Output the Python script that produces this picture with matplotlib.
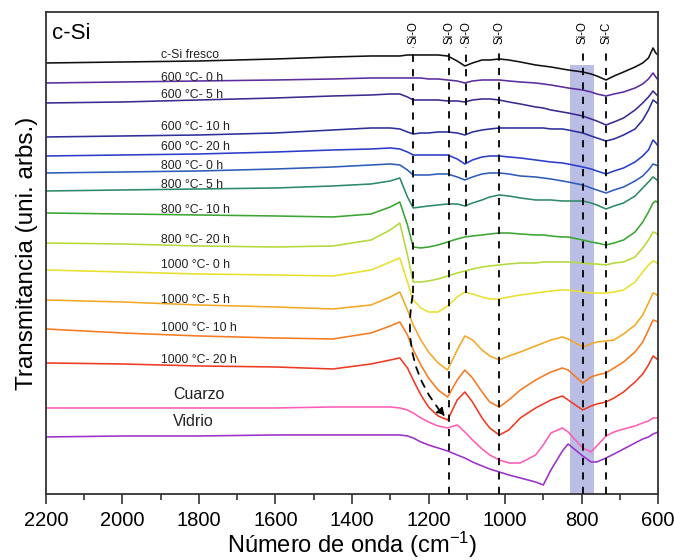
import numpy as np
import matplotlib
matplotlib.use("Agg")
import matplotlib.pyplot as plt

plt.rcParams['font.family'] = ['Liberation Sans', 'DejaVu Sans']
plt.rcParams['mathtext.default'] = 'regular'

# numero de onda (cm-1), rejilla comun para todas las curvas
wn = [2200, 2000, 1800, 1600, 1450, 1350, 1300, 1275, 1255, 1240, 1220, 1200, 1175,
      1150, 1125, 1105, 1085, 1060, 1040, 1015, 990, 960, 920, 900, 880, 850, 835,
      797, 775, 760, 736, 715, 690, 660, 640, 625, 613, 606, 600]

# transmitancia (uni. arbs.), ya desplazada verticalmente
t_fresco = [43.7, 43.8, 43.9, 44.1, 44.3, 44.4, 44.4, 44.4, 44.5, 44.5, 44.5, 44.5, 44.5,
            44.4, 43.9, 43.4, 43.7, 44.0, 44.0, 44.1, 44.0, 43.8, 43.5, 43.4, 43.3, 43.1, 43.0,
            42.8, 42.6, 42.4, 42.0, 42.4, 42.8, 43.3, 43.7, 44.2, 45.2, 44.7, 44.5]
t_600_0 = [41.7, 41.8, 41.9, 42.0, 42.1, 42.2, 42.2, 42.2, 42.2, 42.2, 42.2, 42.1, 42.1,
           42.0, 41.9, 41.7, 41.9, 42.0, 42.0, 42.0, 41.9, 41.8, 41.7, 41.6, 41.5, 41.3, 41.2,
           41.0, 40.8, 40.6, 40.4, 40.6, 40.8, 41.2, 41.6, 42.1, 42.7, 42.3, 42.0]
t_600_5 = [39.7, 39.8, 40.0, 40.2, 40.4, 40.5, 40.6, 40.6, 40.3, 40.0, 40.0, 40.0, 40.0,
           39.9, 39.9, 39.8, 40.0, 40.1, 40.1, 40.0, 39.8, 39.6, 39.3, 39.2, 39.0, 38.8, 38.7,
           38.4, 38.1, 37.9, 37.5, 37.8, 38.2, 39.0, 39.7, 40.3, 40.9, 40.6, 40.4]
t_600_10 = [36.3, 36.4, 36.5, 36.7, 37.0, 37.2, 37.2, 37.1, 36.8, 36.6, 36.7, 36.7, 36.8,
            36.8, 36.7, 36.5, 36.8, 37.0, 37.1, 37.2, 37.2, 37.2, 37.2, 37.2, 37.1, 37.1, 37.0,
            36.7, 36.4, 36.2, 35.9, 36.1, 36.5, 37.1, 38.0, 39.0, 40.0, 39.8, 39.6]
t_600_20 = [34.4, 34.5, 34.6, 34.8, 35.0, 35.1, 35.2, 35.1, 34.8, 34.5, 34.5, 34.5, 34.5,
            34.5, 34.1, 33.6, 34.0, 34.3, 34.4, 34.4, 34.3, 34.2, 34.0, 33.9, 33.8, 33.7, 33.6,
            33.3, 33.1, 32.9, 32.6, 32.9, 33.2, 33.8, 34.4, 35.0, 36.0, 35.7, 35.4]
t_800_0 = [32.7, 32.8, 32.9, 33.1, 33.3, 33.5, 33.6, 33.5, 33.0, 32.5, 32.5, 32.5, 32.6,
           32.6, 32.3, 32.0, 32.3, 32.6, 32.7, 32.7, 32.6, 32.4, 32.3, 32.2, 32.1, 31.9, 31.8,
           31.5, 31.2, 31.0, 30.7, 31.0, 31.3, 31.9, 32.4, 33.0, 33.6, 33.5, 33.4]
t_800_5 = [30.9, 31.0, 31.1, 31.2, 31.4, 31.6, 31.9, 32.2, 30.3, 29.2, 29.3, 29.4, 29.5,
           29.6, 29.6, 29.4, 29.7, 30.0, 30.3, 30.5, 30.4, 30.2, 30.0, 30.0, 30.0, 29.9, 29.9,
           29.9, 29.7, 29.5, 29.1, 29.4, 29.7, 30.4, 31.2, 31.8, 32.3, 32.1, 31.9]
t_800_10 = [28.7, 28.6, 28.5, 28.4, 28.3, 28.6, 29.3, 29.8, 27.5, 25.3, 25.2, 25.3, 25.5,
            25.8, 26.1, 26.3, 26.4, 26.5, 26.6, 26.7, 26.7, 26.6, 26.5, 26.5, 26.4, 26.3, 26.3,
            26.0, 25.8, 25.7, 25.5, 25.7, 26.0, 26.8, 27.8, 28.8, 29.7, 29.9, 29.7]
t_800_20 = [25.7, 25.6, 25.4, 25.3, 25.4, 26.0, 27.0, 27.7, 24.5, 21.8, 21.8, 21.9, 22.1,
            22.4, 22.7, 22.9, 23.1, 23.3, 23.4, 23.5, 23.6, 23.7, 23.7, 23.8, 23.8, 23.8, 23.8,
            23.7, 23.6, 23.6, 23.5, 23.7, 23.8, 24.3, 25.2, 26.0, 26.8, 26.7, 26.5]
t_1000_0 = [23.0, 22.8, 22.6, 22.5, 22.4, 23.0, 23.8, 24.2, 21.8, 20.0, 19.2, 18.8, 18.8,
            19.4, 20.3, 20.8, 20.6, 20.3, 20.1, 20.1, 20.3, 20.5, 20.7, 20.8, 20.9, 21.0, 21.0,
            20.8, 20.7, 20.7, 20.7, 20.8, 21.0, 21.8, 22.8, 23.5, 23.9, 23.8, 23.6]
t_1000_5 = [20.0, 19.8, 19.5, 19.3, 19.1, 19.5, 20.3, 20.8, 19.0, 17.5, 16.0, 14.8, 13.7,
            13.0, 15.0, 16.4, 16.0, 15.0, 14.4, 14.0, 14.4, 14.8, 15.4, 15.7, 16.0, 16.3, 16.1,
            15.3, 15.6, 15.8, 15.9, 16.0, 16.6, 17.5, 18.5, 19.7, 20.7, 20.6, 20.4]
t_1000_10 = [17.1, 16.7, 16.4, 16.2, 16.1, 16.7, 17.4, 17.8, 16.5, 15.0, 13.5, 12.2, 11.0,
             10.3, 12.0, 13.0, 12.2, 10.8, 9.8, 9.3, 10.0, 11.0, 12.0, 12.4, 12.8, 13.2, 13.0,
             11.7, 12.3, 12.5, 12.7, 13.2, 13.8, 14.8, 15.8, 17.0, 18.0, 17.9, 17.8]
t_1000_20 = [13.7, 13.6, 13.4, 13.3, 13.1, 13.6, 14.0, 14.2, 13.2, 12.0, 10.5, 9.3, 8.4,
             8.0, 10.0, 10.8, 9.8, 8.2, 7.2, 6.5, 7.0, 8.2, 9.2, 9.6, 10.0, 10.4, 10.0,
             9.0, 9.4, 9.6, 9.8, 10.2, 10.8, 11.8, 12.6, 13.5, 14.4, 14.2, 14.0]
t_cuarzo = [9.2, 9.2, 9.2, 9.2, 9.3, 9.3, 9.3, 9.2, 9.0, 8.7, 8.2, 7.8, 7.4,
            7.2, 7.5, 6.8, 6.0, 5.1, 4.5, 4.0, 3.7, 3.7, 4.5, 5.5, 6.7, 7.2, 6.8,
            5.2, 4.8, 5.4, 6.4, 6.8, 7.1, 7.4, 7.7, 7.9, 8.2, 8.2, 8.2]
t_vidrio = [6.3, 6.4, 6.4, 6.5, 6.5, 6.5, 6.5, 6.5, 6.4, 6.2, 5.8, 5.5, 5.2,
            4.9, 4.5, 4.2, 3.8, 3.4, 3.1, 2.8, 2.5, 2.2, 1.8, 1.5, 3.0, 4.9, 5.6,
            4.4, 3.8, 3.8, 4.2, 4.6, 5.1, 5.7, 6.1, 6.3, 6.6, 6.7, 6.8]

series = [t_fresco, t_600_0, t_600_5, t_600_10, t_600_20, t_800_0, t_800_5, t_800_10,
          t_800_20, t_1000_0, t_1000_5, t_1000_10, t_1000_20, t_cuarzo, t_vidrio]
labels = ['c-Si fresco', '600 °C- 0 h', '600 °C- 5 h', '600 °C- 10 h', '600 °C- 20 h',
          '800 °C- 0 h', '800 °C- 5 h', '800 °C- 10 h', '800 °C- 20 h', '1000 °C- 0 h',
          '1000 °C- 5 h', '1000 °C- 10 h', '1000 °C- 20 h', 'Cuarzo', 'Vidrio']
label_y = [44.5, 42.2, 40.5, 37.3, 35.3, 33.4, 31.5, 29.0, 26.0, 23.5, 20.0, 17.2, 14.0, 10.5, 7.8]
colors = ['#111111', '#5b2d9e', '#3b2a8f', '#2c2f9c', '#2a3ec8', '#2f5bb8', '#2e8a66',
          '#3aa532', '#b3d93a', '#e8df2e', '#f2a825', '#f57a20', '#ee3a22', '#ff5cb8', '#9a30c8']

# bandas asignadas
bands = [1240, 1146, 1101, 1015, 797, 736]
band_names = ['Si-O', 'Si-O', 'Si-O', 'Si-O', 'Si-O', 'Si-C']

fig = plt.figure(figsize=(6.74, 5.6), dpi=100)
ax = fig.add_axes([0.0682, 0.1179, 0.9081, 0.8607])

# zona sombreada Si-O
ax.axvspan(829, 768, ymin=0, ymax=0.89, color='#babee5', lw=0, zorder=0)

for t, c, lab, ly in zip(series, colors, labels, label_y):
    ax.plot(wn, t, color=c, lw=1.15, zorder=2)
    fs = 11.5 if lab in ('Cuarzo', 'Vidrio') else 8.8
    x0 = 1868 if lab in ('Cuarzo', 'Vidrio') else 1899
    ax.text(x0, ly, lab, fontsize=fs, ha='left', va='center', color='#222222')

# lineas de referencia
for b, name in zip(bands, band_names):
    y_low = 20.7 if b in (1101, 1240) else 0.6
    ax.vlines(b, y_low, 45.3, colors='black', linestyles=(0, (4, 4)), lw=1.3, zorder=3)
    ax.text(b, 46.7, name, rotation=90, fontsize=8.3, ha='center', va='center')

ax.annotate('', xy=(1152, 8.1), xytext=(1240, 20.7),
            arrowprops=dict(arrowstyle='-|>', color='black', lw=1.3, linestyle=(0, (4, 4)),
                            connectionstyle='arc3,rad=0.25', mutation_scale=12),
            zorder=3)

ax.text(0.01, 0.955, 'c-Si', transform=ax.transAxes, fontsize=16, ha='left', va='center')

ax.set_xlim(2200, 600)
ax.set_ylim(0.6, 48.8)
ax.set_xticks(np.arange(2200, 599, -200))
ax.set_xticks(np.arange(2100, 600, -200), minor=True)
ax.set_yticks([])
ax.tick_params(axis='x', which='major', length=7, width=1.2, labelsize=14.5, direction='out',
               color='#333333', pad=5)
ax.tick_params(axis='x', which='minor', length=4, width=1.2, direction='out', color='#333333')
for s in ax.spines.values():
    s.set_color('#333333')
    s.set_linewidth(1.3)

ax.set_xlabel('Número de onda (cm$^{-1}$)', fontsize=17, labelpad=0)
ax.set_ylabel('Transmitancia (uni. arbs.)', fontsize=17.5, labelpad=6)

fig.savefig('out.png', dpi=100)
